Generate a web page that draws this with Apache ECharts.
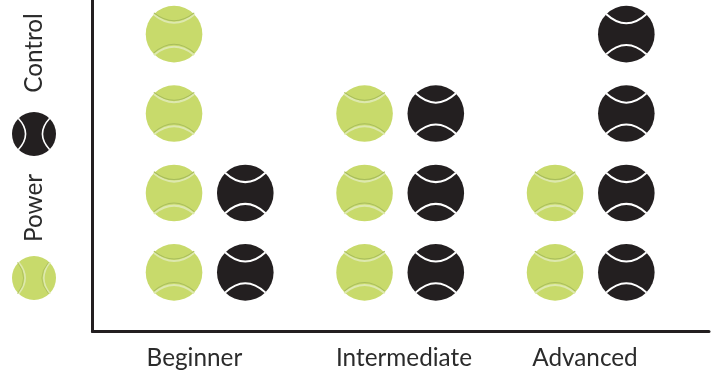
<!DOCTYPE html>
<html lang="en">
<head>
    <meta charset="UTF-8">
    <script src="https://cdn.jsdelivr.net/npm/echarts@6/dist/echarts.min.js"></script>
    <title>Tennis balls</title>
    <style type="text/css">
        html, body { margin: 0; padding: 0; background: #fff; }
        #chart { width: 716px; height: 370px; }
    </style>
</head>
<body>
<div id="chart"></div>
<script type="text/javascript">
    const categories = ['Beginner', 'Intermediate', 'Advanced'];
    const powerCounts = [4, 3, 2];
    const controlCounts = [2, 3, 4];
    const legendLabels = ['Control', 'Power'];
    // labels sit a bit off the ball groups in the original
    const labelTicks = [-0.079, 1.021, 1.971];

    const INK = '#231f20';
    const GREEN = '#c8da6b';
    const SEAM_DARK = '#a8bd5c';
    const SEAM_LIGHT = '#dde8ae';
    const TEXT = '#2b2b2b';

    // one ball, r is the radius in px
    function ball(kind, r, x, y, rotation) {
        const s = r / 28;
        const seam = function (y0, yc, stroke, lineWidth) {
            return {
                type: 'bezierCurve',
                shape: { x1: -20 * s, y1: y0 * s, cpx1: 0, cpy1: yc * s, x2: 20 * s, y2: y0 * s },
                style: { fill: null, stroke: stroke, lineWidth: lineWidth }
            };
        };
        const children = [{
            type: 'circle',
            shape: { cx: 0, cy: 0, r: r },
            style: { fill: kind === 'power' ? GREEN : INK }
        }];
        if (kind === 'power') {
            children.push(seam(-19.5, -3, SEAM_LIGHT, 2 * s), seam(-21, -5.5, SEAM_DARK, 1 * s));
            children.push(seam(20.5, 4.5, SEAM_LIGHT, 2 * s), seam(18.5, 1.5, SEAM_DARK, 1 * s));
        } else {
            children.push(seam(-20, -1.5, '#ffffff', 2 * s), seam(20, 1.5, '#ffffff', 2 * s));
        }
        return { type: 'group', x: x, y: y, rotation: rotation || 0, children: children };
    }

    function ballSeries(name, counts, offset) {
        const points = [];
        counts.forEach(function (count, i) {
            for (let k = 1; k <= count; k++) {
                points.push([i + offset, k]);
            }
        });
        return {
            name: name,
            type: 'custom',
            data: points,
            clip: false,
            renderItem: function (params, api) {
                const p = api.coord([api.value(0), api.value(1)]);
                return ball(name, 28.3, p[0], p[1]);
            }
        };
    }

    function legendText(text, y) {
        return {
            type: 'text', x: 34, y: y, rotation: Math.PI / 2,
            style: {
                text: text, fill: TEXT, fontFamily: 'Lato', fontSize: 24.3,
                align: 'center', verticalAlign: 'middle'
            }
        };
    }

    const myChart = echarts.init(document.getElementById('chart'));

    const option = {
        animation: false,
        backgroundColor: '#ffffff',
        // v6 shrinks the grid to keep labels inside otherwise
        grid: { left: 92.5, right: 7, top: 0, bottom: 38.5, outerBoundsMode: 'none' },
        xAxis: {
            type: 'value',
            min: -0.614,
            max: 2.622,
            splitLine: { show: false },
            axisLine: { show: true, onZero: false, lineStyle: { color: INK, width: 3 } },
            axisTick: { show: false },
            axisLabel: {
                customValues: labelTicks,
                formatter: function (value) {
                    return categories[labelTicks.indexOf(value)];
                },
                color: TEXT,
                fontFamily: 'Lato',
                fontSize: 24.3,
                margin: 15
            }
        },
        yAxis: {
            type: 'value',
            min: 0.256,
            max: 4.43,
            splitLine: { show: false },
            axisLine: { show: true, onZero: false, lineStyle: { color: INK, width: 3 } },
            axisTick: { show: false },
            axisLabel: { show: false }
        },
        series: [
            ballSeries('power', powerCounts, -0.186),
            ballSeries('control', controlCounts, 0.188)
        ],
        graphic: [
            legendText(legendLabels[0], 53),
            legendText(legendLabels[1], 208),
            ball('control', 22, 34, 134, Math.PI / 2),
            ball('power', 22, 34, 278, Math.PI / 2)
        ]
    };

    myChart.setOption(option);
</script>
</body>
</html>
